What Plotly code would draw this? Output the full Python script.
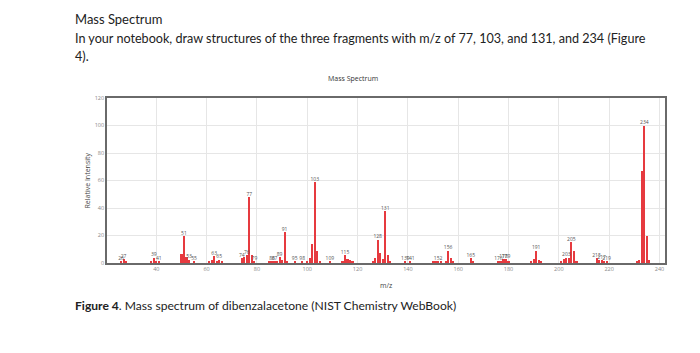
import plotly.graph_objects as go

mz = [26, 27, 28, 38, 39, 40, 41, 50, 51, 52, 53, 55, 61, 62, 63, 64, 65, 66,
      74, 75, 76, 77, 78, 79, 85, 86, 87, 88, 89, 90, 91, 92, 95, 98, 100, 101,
      102, 103, 104, 105, 109, 114, 115, 116, 117, 118, 126, 127, 128, 129, 130,
      131, 132, 133, 139, 141, 150, 151, 152, 153, 155, 156, 157, 158, 165, 166,
      176, 177, 178, 179, 180, 189, 190, 191, 192, 193, 201, 202, 203, 204, 205,
      206, 207, 215, 216, 217, 218, 219, 231, 232, 233, 234, 235, 236]
intensity = [1.5, 3.0, 1.0, 1.5, 4.0, 1.0, 1.0, 6.5, 19.5, 4.5, 2.5, 1.0, 1.0, 2.0, 5.0, 1.5, 2.5, 1.0,
             3.5, 4.5, 6.0, 48, 6.0, 1.5, 1.0, 1.0, 1.5, 1.0, 4.5, 2.0, 22.5, 1.5, 1.0, 1.0, 1.0, 4.0,
             14, 59, 8.5, 1.5, 1.0, 1.0, 6.0, 3.0, 2.0, 1.0, 1.5, 4.0, 17, 7.5, 3.0,
             38, 5.5, 1.0, 1.0, 1.0, 1.0, 1.0, 1.5, 1.5, 1.0, 9.0, 4.0, 1.5, 3.5, 1.0,
             1.0, 1.5, 3.0, 3.0, 1.5, 1.5, 3.0, 9.0, 2.0, 1.0, 1.0, 3.0, 4.0, 4.0, 15,
             8.5, 1.5, 3.5, 2.0, 2.0, 1.5, 1.5, 1.0, 2.5, 67, 100, 19.5, 2.5]

labeled_mz = [26, 27, 39, 41, 51, 53, 55, 63, 65, 74, 76, 77, 79, 86, 87, 89, 91, 95, 98,
              103, 109, 115, 128, 131, 139, 141, 152, 156, 165, 176, 178, 179, 191, 203,
              205, 215, 217, 219, 234]

x_ticks = [40, 60, 80, 100, 120, 140, 160, 180, 200, 220, 240]
y_ticks = [0, 20, 40, 60, 80, 100, 120]

lookup = dict(zip(mz, intensity))
label_y = [lookup[m] for m in labeled_mz]

fig = go.Figure()
fig.add_trace(go.Bar(x=mz, y=intensity, width=0.85,
                     marker=dict(color="#e63a3f", line=dict(width=0)),
                     hoverinfo="x+y"))
fig.add_trace(go.Scatter(x=labeled_mz, y=label_y, mode="text",
                         text=[str(m) for m in labeled_mz],
                         textposition="top center",
                         textfont=dict(family="Open Sans", size=5, color="#555555"),
                         hoverinfo="skip"))

W, H = 700, 353
L, R, T, B = 107, 35, 98, 90
pw, ph = W - L - R, H - T - B

def px(x):
    return (x - L) / pw

def py(y):
    return (H - B - y) / ph

doc_font = "Lato"
annotations = [
    dict(text="Mass Spectrum", x=px(73), y=py(19), font=dict(family=doc_font, size=13, color="#222222"),
         xanchor="left", yanchor="middle"),
    dict(text="In your notebook, draw structures of the three fragments with m/z of 77, 103, and 131, and 234 (Figure",
         x=px(73), y=py(39), font=dict(family=doc_font, size=12.6, color="#222222"),
         xanchor="left", yanchor="middle"),
    dict(text="4).", x=px(73), y=py(57), font=dict(family=doc_font, size=12.6, color="#222222"),
         xanchor="left", yanchor="middle"),
    dict(text="<b>Figure 4</b>. Mass spectrum of dibenzalacetone (NIST Chemistry WebBook)",
         x=px(73), y=py(305), font=dict(family=doc_font, size=12.1, color="#222222"),
         xanchor="left", yanchor="middle"),
    dict(text="Mass Spectrum", x=px(353), y=py(78), font=dict(family="Open Sans", size=7, color="#333333"),
         xanchor="center", yanchor="middle"),
    dict(text="Relative Intensity", x=px(87), y=0.5, textangle=-90,
         font=dict(family="Open Sans", size=7, color="#444444"),
         xanchor="center", yanchor="middle"),
    dict(text="m/z", x=0.5, y=py(285), font=dict(family="Open Sans", size=7, color="#444444"),
         xanchor="center", yanchor="middle"),
]
for a in annotations:
    a.update(xref="paper", yref="paper", showarrow=False)

fig.update_layout(
    width=W, height=H,
    margin=dict(l=L, r=R, t=T, b=B),
    paper_bgcolor="white", plot_bgcolor="white",
    showlegend=False, bargap=0,
    annotations=annotations,
    xaxis=dict(range=[20.4, 242.2], tickvals=x_ticks, ticktext=[str(v) for v in x_ticks],
               showgrid=True, gridcolor="#e6e6e6", gridwidth=1, zeroline=False,
               showline=True, linecolor="#6a6a6a", linewidth=1.5, mirror=True,
               ticks="", tickfont=dict(family="Open Sans", size=5.5, color="#888888")),
    yaxis=dict(range=[0, 120], tickvals=y_ticks, ticktext=[str(v) for v in y_ticks],
               showgrid=True, gridcolor="#e6e6e6", gridwidth=1, zeroline=False,
               showline=True, linecolor="#6a6a6a", linewidth=1.5, mirror=True,
               ticks="", tickfont=dict(family="Open Sans", size=5.5, color="#888888")),
)

fig.write_html("out.html")
